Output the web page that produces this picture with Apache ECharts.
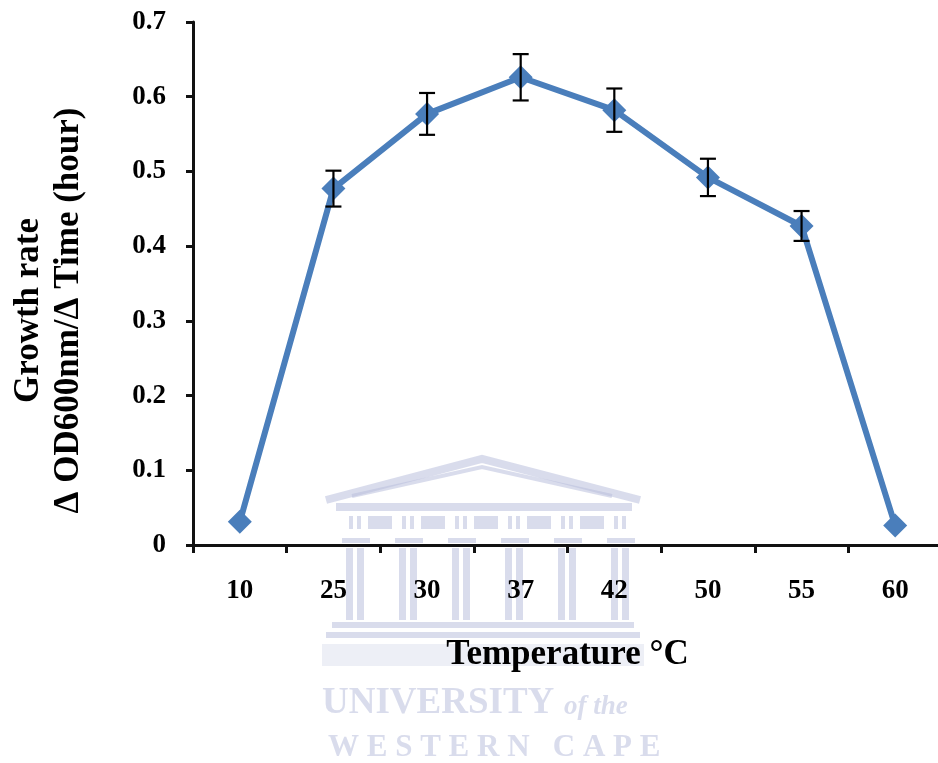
<!DOCTYPE html>
<html>
<head>
<meta charset="utf-8">
<script src="https://cdn.jsdelivr.net/npm/echarts@6/dist/echarts.min.js"></script>
<style>
  html, body { margin: 0; padding: 0; background: #fff; }
  #chart { width: 938px; height: 763px; }
</style>
</head>
<body>
<div id="chart"></div>
<script>
// values
const temperatures = ["10", "25", "30", "37", "42", "50", "55", "60"]
const growthRate = [0.031, 0.477, 0.577, 0.626, 0.582, 0.492, 0.427, 0.026]
const errorSize = [0, 0.024, 0.028, 0.031, 0.029, 0.025, 0.020, 0]
const yTicks = [0, 0.1, 0.2, 0.3, 0.4, 0.5, 0.6, 0.7]

const chart = echarts.init(document.getElementById("chart"))

const font = "'Liberation Serif', 'Times New Roman', serif"
const wm = "rgba(185, 192, 220, 0.55)"

// watermark (university logo) drawn as plain shapes
const columns = []
for (let i = 0; i < 6; i++) {
  const x = 346 + i * 53
  columns.push({ type: "rect", shape: { x: x, y: 548, width: 7, height: 72 }, style: { fill: wm } })
  columns.push({ type: "rect", shape: { x: x + 11, y: 548, width: 7, height: 72 }, style: { fill: wm } })
  columns.push({ type: "rect", shape: { x: x - 4, y: 538, width: 28, height: 5 }, style: { fill: wm } })
  columns.push({ type: "rect", shape: { x: x + 3, y: 516, width: 4, height: 13 }, style: { fill: wm } })
  columns.push({ type: "rect", shape: { x: x + 11, y: 516, width: 4, height: 13 }, style: { fill: wm } })
  if (i < 5) columns.push({ type: "rect", shape: { x: x + 22, y: 516, width: 24, height: 13 }, style: { fill: wm } })
}

const option = {
  animation: false,
  grid: { left: 193, top: 22, width: 749, height: 523, containLabel: false, outerBoundsMode: "none" },
  xAxis: {
    type: "category",
    data: temperatures,
    boundaryGap: true,
    name: "Temperature °C",
    nameLocation: "middle",
    nameGap: 92,
    nameTextStyle: { fontFamily: font, fontWeight: "bold", fontSize: 35, color: "#000" },
    axisLine: { lineStyle: { color: "#111", width: 3 } },
    axisTick: { show: true, alignWithLabel: false, length: 8, lineStyle: { color: "#111", width: 3 } },
    axisLabel: { fontFamily: font, fontWeight: "bold", fontSize: 27, color: "#000", margin: 33 },
    splitLine: { show: false },
  },
  yAxis: {
    type: "value",
    min: 0,
    max: 0.7,
    interval: 0.1,
    name: "Growth rate\nΔ OD600nm/Δ Time (hour)",
    nameLocation: "middle",
    nameRotate: 90,
    nameGap: 104,
    nameTextStyle: {
      fontFamily: font, fontWeight: "bold", fontSize: 35, color: "#000", lineHeight: 40,
      padding: [0, 54, 0, 0],
    },
    axisLine: { show: true, lineStyle: { color: "#111", width: 3 } },
    axisTick: { show: true, length: 7, lineStyle: { color: "#111", width: 3 } },
    axisLabel: {
      fontFamily: font, fontWeight: "bold", fontSize: 27, color: "#000", margin: 27,
      formatter: (v) => {
        const t = yTicks.find((k) => Math.abs(k - v) < 1e-6)
        return t === 0 ? "0" : String(Math.round(t * 10) / 10)
      },
    },
    splitLine: { show: false },
  },
  series: [
    {
      type: "line",
      data: growthRate,
      symbol: "diamond",
      symbolSize: 24,
      lineStyle: { color: "#4a7ebb", width: 6 },
      itemStyle: { color: "#4a7ebb" },
      z: 3,
    },
    {
      type: "custom",
      z: 4,
      data: growthRate.map((v, i) => [i, v - errorSize[i], v + errorSize[i]]),
      renderItem: (params, api) => {
        if (api.value(2) - api.value(1) < 1e-6) return null
        const lo = api.coord([api.value(0), api.value(1)])
        const hi = api.coord([api.value(0), api.value(2)])
        const w = 8
        const st = { stroke: "#000", lineWidth: 2.2 }
        return {
          type: "group",
          children: [
            { type: "line", shape: { x1: hi[0], y1: hi[1], x2: lo[0], y2: lo[1] }, style: st },
            { type: "line", shape: { x1: hi[0] - w, y1: hi[1], x2: hi[0] + w, y2: hi[1] }, style: st },
            { type: "line", shape: { x1: lo[0] - w, y1: lo[1], x2: lo[0] + w, y2: lo[1] }, style: st },
          ],
        }
      },
    },
  ],
  graphic: [
    {
      type: "group",
      z: 100,
      silent: true,
      children: [
        { type: "polyline", shape: { points: [[326, 500], [482, 459], [640, 500]] }, style: { stroke: wm, lineWidth: 8, fill: null } },
        { type: "polyline", shape: { points: [[352, 496], [482, 467], [612, 496]] }, style: { stroke: wm, lineWidth: 4, fill: null } },
        { type: "rect", shape: { x: 336, y: 503, width: 296, height: 8 }, style: { fill: wm } },
        ...columns,
        { type: "rect", shape: { x: 332, y: 622, width: 302, height: 6 }, style: { fill: wm } },
        { type: "rect", shape: { x: 326, y: 632, width: 314, height: 6 }, style: { fill: wm } },
        { type: "rect", shape: { x: 322, y: 644, width: 322, height: 22 }, style: { fill: "rgba(185, 192, 220, 0.25)" } },
        {
          type: "text", x: 322, y: 703,
          style: { text: "UNIVERSITY", font: "bold 37px 'Liberation Serif', serif", fill: wm, verticalAlign: "middle" },
        },
        {
          type: "text", x: 564, y: 707,
          style: { text: "of the", font: "italic bold 27px 'Liberation Serif', serif", fill: wm, verticalAlign: "middle" },
        },
        {
          type: "text", x: 328, y: 748,
          style: { text: "W E S T E R N   C A P E", font: "bold 31px 'Liberation Serif', serif", fill: wm, verticalAlign: "middle" },
        },
      ],
    },
  ],
}

chart.setOption(option)
</script>
</body>
</html>
